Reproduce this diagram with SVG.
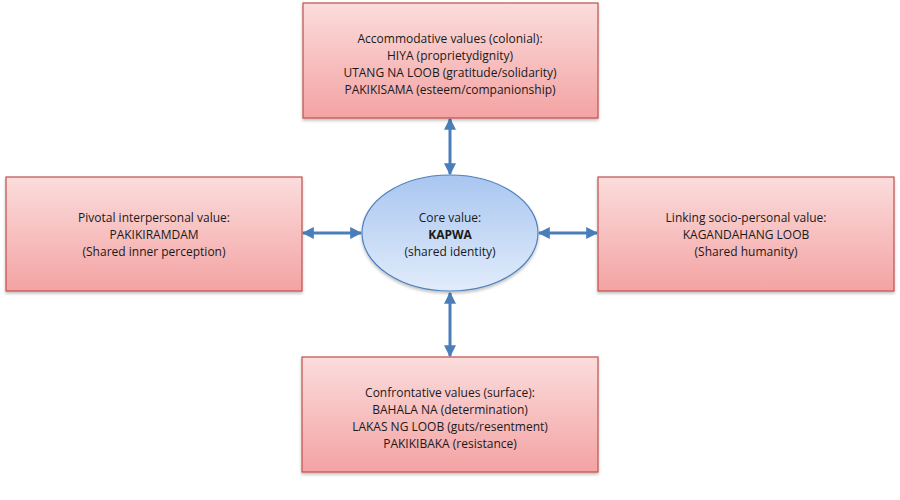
<svg xmlns="http://www.w3.org/2000/svg" width="900" height="500" viewBox="0 0 900 500">
<defs>
<linearGradient id="pink" x1="0" y1="0" x2="0" y2="1">
<stop offset="0" stop-color="#fbdcdc"/>
<stop offset="1" stop-color="#f4a3a3"/>
</linearGradient>
<linearGradient id="blue" x1="0" y1="0" x2="0" y2="1">
<stop offset="0" stop-color="#a9c6f0"/>
<stop offset="1" stop-color="#e1ecfb"/>
</linearGradient>
<marker id="ah" viewBox="0 0 10 10" refX="9" refY="5" markerWidth="4" markerHeight="4" orient="auto-start-reverse" markerUnits="strokeWidth">
<path d="M0,0 L10,5 L0,10 z" fill="#4a7ebb"/>
</marker>
<filter id="sh" x="-5%" y="-5%" width="110%" height="115%">
<feDropShadow dx="0" dy="2" stdDeviation="1.5" flood-color="#000" flood-opacity="0.25"/>
</filter>
</defs>
<style>
.box{fill:url(#pink);stroke:#c0504d;stroke-width:1.2;filter:url(#sh)}
.ell{fill:url(#blue);stroke:#4f81bd;stroke-width:1.2;filter:url(#sh)}
text{font-family:"Open Sans","Liberation Sans",sans-serif;font-size:12px;fill:#1a1a1a;text-anchor:middle}
.b{font-weight:bold}
.conn{stroke:#4a7ebb;stroke-width:3;fill:none;marker-start:url(#ah);marker-end:url(#ah)}
</style>
<rect width="900" height="500" fill="#ffffff"/>
<g id="connectors">
<line class="conn" x1="450" y1="119" x2="450" y2="174"/>
<line class="conn" x1="450" y1="293" x2="450" y2="356"/>
<line class="conn" x1="303" y1="233" x2="361" y2="233"/>
<line class="conn" x1="539" y1="233" x2="597" y2="233"/>
</g>
<g id="top">
<rect class="box" x="303" y="3" width="295" height="115"/>
<text x="450" y="43">Accommodative values (colonial):</text>
<text x="450" y="60">HIYA (proprietydignity)</text>
<text x="450" y="77">UTANG NA LOOB (gratitude/solidarity)</text>
<text x="450" y="94">PAKIKISAMA (esteem/companionship)</text>
</g>
<g id="left">
<rect class="box" x="6" y="177" width="296" height="114"/>
<text x="154" y="222">Pivotal interpersonal value:</text>
<text x="154" y="239">PAKIKIRAMDAM</text>
<text x="154" y="256">(Shared inner perception)</text>
</g>
<g id="right">
<rect class="box" x="598" y="177" width="296" height="114"/>
<text x="746" y="222">Linking socio-personal value:</text>
<text x="746" y="239">KAGANDAHANG LOOB</text>
<text x="746" y="256">(Shared humanity)</text>
</g>
<g id="bottom">
<rect class="box" x="302" y="357" width="296" height="115"/>
<text x="450" y="397">Confrontative values (surface):</text>
<text x="450" y="414">BAHALA NA (determination)</text>
<text x="450" y="431">LAKAS NG LOOB (guts/resentment)</text>
<text x="450" y="448">PAKIKIBAKA (resistance)</text>
</g>
<g id="core">
<ellipse class="ell" cx="450" cy="233" rx="88" ry="58"/>
<text x="450" y="222">Core value:</text>
<text class="b" x="450" y="239">KAPWA</text>
<text x="450" y="256">(shared identity)</text>
</g>
</svg>
